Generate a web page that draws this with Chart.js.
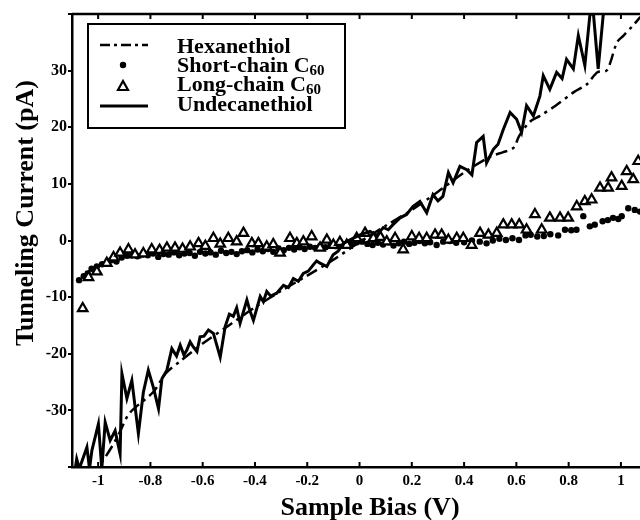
<!DOCTYPE html>
<html>
<head>
<meta charset="utf-8">
<script src="https://cdn.jsdelivr.net/npm/chart.js@4.4.1/dist/chart.umd.min.js"></script>
<style>
  html, body { margin: 0; padding: 0; background: #fff; }
</style>
</head>
<body>
<canvas id="ivChart" width="640" height="520"></canvas>
<script>
// values (bias in V, current in pA)
const hexBias = [-1.03, -0.99, -0.95, -0.92, -0.88, -0.79, -0.74, -0.68, -0.6, -0.5, -0.4, -0.3, -0.2, -0.1, 0, 0.1, 0.2, 0.3, 0.4, 0.5, 0.55, 0.59, 0.61, 0.65, 0.69, 0.75, 0.82, 0.87, 0.91, 0.945, 0.96, 0.985, 1.01, 1.045, 1.075];
const hexCurrent = [-41.5, -39.4, -36.6, -34.1, -30.5, -26.8, -23.4, -21.1, -18.2, -15.0, -11.8, -8.9, -6.2, -3.4, -0.3, 2.6, 5.4, 8.6, 12.0, 14.8, 15.6, 16.4, 18.4, 20.9, 22.0, 23.8, 26.2, 27.6, 29.7, 30.0, 31.5, 35.0, 36.2, 37.9, 39.5];

const undecBias = [-1.09, -1.082, -1.072, -1.043, -1.033, -1.024, -0.999, -0.986, -0.973, -0.954, -0.935, -0.916, -0.909, -0.890, -0.871, -0.846, -0.827, -0.808, -0.789, -0.769, -0.756, -0.737, -0.718, -0.700, -0.686, -0.672, -0.661, -0.648, -0.636, -0.622, -0.610, -0.595, -0.578, -0.559, -0.533, -0.514, -0.498, -0.483, -0.470, -0.457, -0.431, -0.420, -0.406, -0.380, -0.368, -0.355, -0.340, -0.317, -0.291, -0.272, -0.253, -0.234, -0.215, -0.196, -0.177, -0.164, -0.151, -0.125, -0.101, -0.082, -0.062, -0.029, 0.002, 0.040, 0.065, 0.091, 0.110, 0.128, 0.155, 0.180, 0.204, 0.231, 0.257, 0.281, 0.300, 0.319, 0.340, 0.358, 0.384, 0.410, 0.430, 0.448, 0.473, 0.486, 0.512, 0.530, 0.550, 0.576, 0.601, 0.620, 0.639, 0.665, 0.690, 0.703, 0.728, 0.754, 0.775, 0.792, 0.818, 0.837, 0.862, 0.881, 0.894, 0.913, 0.932, 0.945];
const undecCurrent = [-41, -38.6, -40.3, -36.5, -40.3, -37.1, -32.4, -40.3, -32.1, -35.3, -33.6, -37.7, -23.5, -27.9, -24.7, -34.1, -26.8, -22.9, -25.9, -29.7, -24.4, -22.9, -19.1, -20.4, -18.5, -20.2, -19.4, -17.9, -18.8, -19.6, -17.0, -16.9, -15.8, -16.4, -20.6, -15.2, -13.0, -13.4, -11.9, -14.6, -10.5, -12.3, -14.1, -9.9, -10.8, -9.0, -9.8, -9.3, -7.9, -8.3, -6.7, -7.2, -5.8, -5.4, -4.3, -3.6, -4.0, -4.6, -2.5, -1.9, -0.5, 0.3, 1.0, 1.6, 0.9, 2.3, 1.9, 2.8, 4.0, 4.6, 6.0, 6.9, 4.9, 8.1, 7.0, 7.8, 12.0, 10.2, 13.1, 12.5, 11.6, 17.3, 18.4, 13.7, 16.1, 17.0, 19.6, 22.6, 21.4, 19.1, 23.8, 22.0, 25.5, 29.1, 26.7, 29.7, 28.6, 32.0, 30.3, 36.2, 30.9, 39.7, 40.5, 30.3, 39.7, 42];

const shortBias = [-1.073, -1.055, -1.04, -1.025, -1.005, -0.985, -0.967, -0.95, -0.93, -0.91, -0.89, -0.87, -0.85, -0.83, -0.81, -0.79, -0.77, -0.75, -0.73, -0.71, -0.69, -0.67, -0.65, -0.63, -0.61, -0.59, -0.57, -0.55, -0.53, -0.51, -0.49, -0.47, -0.45, -0.43, -0.41, -0.39, -0.37, -0.35, -0.33, -0.31, -0.29, -0.27, -0.25, -0.23, -0.21, -0.19, -0.17, -0.15, -0.13, -0.11, -0.09, -0.07, -0.05, -0.03, -0.01, 0.01, 0.03, 0.05, 0.07, 0.09, 0.11, 0.13, 0.15, 0.17, 0.19, 0.21, 0.23, 0.25, 0.27, 0.295, 0.32, 0.345, 0.37, 0.40, 0.43, 0.46, 0.486, 0.51, 0.535, 0.56, 0.585, 0.61, 0.635, 0.655, 0.68, 0.705, 0.73, 0.76, 0.786, 0.81, 0.83, 0.856, 0.881, 0.90, 0.93, 0.95, 0.97, 0.99, 1.003, 1.028, 1.053, 1.073];
const shortCurrent = [-7.0, -6.3, -5.8, -5.0, -4.6, -4.2, -4.0, -3.5, -3.7, -3.0, -2.7, -2.6, -2.8, -2.5, -2.6, -2.3, -2.9, -2.4, -2.5, -2.1, -2.6, -2.3, -2.2, -2.7, -2.0, -2.3, -2.1, -2.5, -1.8, -2.2, -2.0, -2.4, -1.9, -1.7, -2.1, -1.6, -1.9, -1.5, -2.0, -1.4, -1.7, -1.3, -1.6, -1.2, -1.5, -1.1, -1.3, -0.9, -1.2, -0.8, -1.0, -0.6, -0.9, -0.5, -0.3, -0.2, -0.6, -0.8, -0.4, -0.7, -0.3, -0.9, -0.5, -0.2, -0.6, -0.4, -0.1, -0.5, -0.3, -0.8, -0.2, -0.1, -0.4, -0.3, 0.0, -0.2, -0.5, 0.0, 0.3, 0.1, 0.4, 0.1, 0.9, 1.0, 0.7, 0.8, 1.1, 0.9, 1.9, 1.8, 1.9, 4.3, 2.5, 2.8, 3.4, 3.6, 4.0, 3.8, 4.3, 5.7, 5.4, 5.1];

const longBias = [-1.059, -1.037, -1.005, -0.967, -0.941, -0.916, -0.884, -0.859, -0.827, -0.795, -0.765, -0.737, -0.706, -0.677, -0.648, -0.616, -0.59, -0.559, -0.533, -0.502, -0.47, -0.444, -0.412, -0.387, -0.355, -0.33, -0.304, -0.266, -0.24, -0.215, -0.183, -0.151, -0.125, -0.1, -0.075, -0.049, -0.011, 0.021, 0.053, 0.08, 0.104, 0.136, 0.167, 0.2, 0.228, 0.257, 0.289, 0.314, 0.34, 0.372, 0.397, 0.429, 0.461, 0.493, 0.525, 0.55, 0.582, 0.611, 0.639, 0.671, 0.697, 0.728, 0.767, 0.798, 0.831, 0.862, 0.888, 0.92, 0.951, 0.964, 1.003, 1.022, 1.047, 1.066];
const longCurrent = [-12.0, -6.5, -5.5, -4.0, -3.0, -2.2, -1.6, -2.5, -2.3, -1.6, -1.7, -1.3, -1.3, -1.5, -1.1, -0.5, -1.0, 0.4, -0.6, 0.4, -0.2, 1.3, -0.5, -0.5, -1.1, -0.7, -2.2, 0.4, -0.5, -0.2, 0.7, -1.3, 0.1, -0.8, -0.3, -0.8, 0.4, 1.3, 0.4, 0.6, -0.2, 0.4, -1.6, 0.7, 0.4, 0.4, 1.0, 1.0, 0.1, 0.4, 0.4, -0.8, 1.3, 1.0, 1.3, 2.8, 2.8, 2.8, 1.9, 4.6, 1.9, 4.0, 4.0, 4.0, 6.0, 6.9, 7.2, 9.3, 9.3, 11.1, 9.6, 12.2, 10.8, 14.0];

const xTitle = 'Sample Bias (V)';
const yTitle = 'Tunneling Current (pA)';
const legendNames = ['Hexanethiol', 'Short-chain C', 'Long-chain C', 'Undecanethiol'];
const legendSub = ['', '60', '60', ''];

const SERIF = '"Liberation Serif", "Times New Roman", serif';

function pts(xs, ys) {
    return xs.map((x, i) => ({x: x, y: ys[i]}));
}

// inward x ticks, top frame line, axis titles and the boxed legend
const framePlugin = {
    id: 'frame',
    afterDraw(chart) {
        const ctx = chart.ctx;
        const area = chart.chartArea;
        const xs = chart.scales.x;
        ctx.save();
        ctx.strokeStyle = '#000';
        ctx.fillStyle = '#000';

        ctx.lineWidth = 2.5;
        ctx.beginPath();
        ctx.moveTo(area.left, area.top);
        ctx.lineTo(area.right, area.top);
        ctx.stroke();

        ctx.lineWidth = 2;
        xs.ticks.forEach(t => {
            const px = xs.getPixelForValue(t.value);
            ctx.beginPath();
            ctx.moveTo(px, area.bottom);
            ctx.lineTo(px, area.bottom - 5);
            ctx.moveTo(px, area.top);
            ctx.lineTo(px, area.top + 5);
            ctx.stroke();
        });

        // axis titles
        ctx.font = 'bold 26px ' + SERIF;
        ctx.textAlign = 'center';
        ctx.textBaseline = 'alphabetic';
        ctx.fillText(xTitle, 370, 515);
        ctx.save();
        ctx.translate(33, 213);
        ctx.rotate(-Math.PI / 2);
        ctx.fillText(yTitle, 0, 0);
        ctx.restore();

        // legend box
        ctx.lineWidth = 2;
        ctx.strokeRect(88, 24, 257, 104);

        ctx.lineWidth = 2.5;
        ctx.setLineDash([10, 4, 3, 4]);
        ctx.beginPath();
        ctx.moveTo(100, 45);
        ctx.lineTo(148, 45);
        ctx.stroke();
        ctx.setLineDash([]);

        ctx.beginPath();
        ctx.arc(123, 65, 3.2, 0, Math.PI * 2);
        ctx.fill();

        ctx.lineWidth = 2.2;
        ctx.beginPath();
        ctx.moveTo(123, 81);
        ctx.lineTo(128, 90);
        ctx.lineTo(118, 90);
        ctx.closePath();
        ctx.stroke();

        ctx.lineWidth = 3;
        ctx.beginPath();
        ctx.moveTo(100, 106);
        ctx.lineTo(148, 106);
        ctx.stroke();

        const base = [53, 72, 91, 111];
        ctx.textAlign = 'left';
        legendNames.forEach((name, i) => {
            ctx.font = 'bold 22px ' + SERIF;
            ctx.fillText(name, 177, base[i]);
            if (legendSub[i]) {
                const w = ctx.measureText(name).width;
                ctx.font = 'bold 15px ' + SERIF;
                ctx.fillText(legendSub[i], 177 + w, base[i] + 3);
            }
        });
        ctx.restore();
    }
};

const chart = new Chart(document.getElementById('ivChart'), {
    type: 'scatter',
    data: {
        datasets: [
            {
                label: 'Undecanethiol',
                data: pts(undecBias, undecCurrent),
                showLine: true,
                borderColor: '#000',
                borderWidth: 3,
                pointRadius: 0,
                tension: 0
            },
            {
                label: 'Hexanethiol',
                data: pts(hexBias, hexCurrent),
                showLine: true,
                borderColor: '#000',
                borderWidth: 2.5,
                borderDash: [12, 5, 3, 5],
                pointRadius: 0,
                tension: 0.3
            },
            {
                label: 'Long-chain C60',
                data: pts(longBias, longCurrent),
                pointStyle: 'triangle',
                pointRadius: 5.5,
                pointBorderWidth: 2.2,
                pointBorderColor: '#000',
                pointBackgroundColor: '#fff'
            },
            {
                label: 'Short-chain C60',
                data: pts(shortBias, shortCurrent),
                pointStyle: 'circle',
                pointRadius: 3.2,
                pointBorderWidth: 0,
                pointBackgroundColor: '#000'
            }
        ]
    },
    options: {
        responsive: false,
        animation: false,
        devicePixelRatio: 1,
        layout: {autoPadding: false, padding: {top: 14, right: 0, bottom: 0, left: 0}},
        plugins: {
            legend: {display: false},
            tooltip: {enabled: false}
        },
        scales: {
            x: {
                type: 'linear',
                min: -1.1,
                max: 1.073,
                afterFit: s => { s.height = 53; s.paddingLeft = 0; s.paddingRight = 0; },
                border: {display: true, color: '#000', width: 2.5},
                grid: {display: false, drawTicks: false},
                ticks: {
                    stepSize: 0.2,
                    includeBounds: false,
                    autoSkip: false,
                    maxRotation: 0,
                    padding: 5,
                    color: '#000',
                    font: {family: SERIF, size: 15, weight: 'bold'},
                    callback: v => Math.abs(v) < 1e-9 ? '0' : String(+v.toFixed(1))
                }
            },
            y: {
                type: 'linear',
                min: -40,
                max: 40,
                afterFit: s => { s.width = 72; s.paddingTop = 0; s.paddingBottom = 0; },
                border: {display: true, color: '#000', width: 2.5},
                grid: {drawOnChartArea: false, drawTicks: true, tickLength: 4, color: '#000', lineWidth: 2},
                ticks: {
                    stepSize: 10,
                    padding: 1,
                    color: '#000',
                    font: {family: SERIF, size: 16, weight: 'bold'},
                    callback: v => Math.abs(v) >= 40 ? '' : String(v)
                }
            }
        }
    },
    plugins: [framePlugin]
});
</script>
</body>
</html>
